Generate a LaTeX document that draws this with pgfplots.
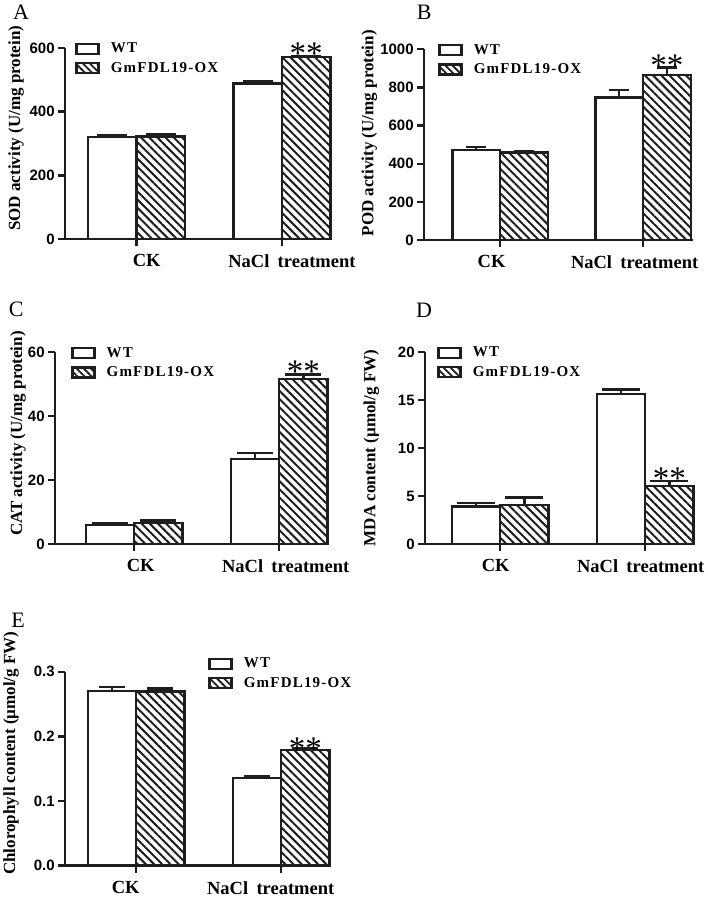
\documentclass[border=0pt]{standalone}
\usepackage{pgfplots}
\pgfplotsset{compat=1.18}
\usepackage{fontspec}
\setmainfont{Liberation Serif}
\newfontfamily\arialbf{Liberation Sans}
\newfontfamily\legfont[LetterSpace=8]{Liberation Serif}
\usetikzlibrary{patterns.meta}
\definecolor{ink}{HTML}{1E1E1E}

\tikzset{stars/.style={anchor=base, font=\fontsize{33}{33}\selectfont, inner sep=0pt, yshift=-8.5pt}}

\pgfplotsset{
  panel/.style={
    scale only axis, clip=false, enlargelimits=false,
    axis lines*=left,
    axis line style={line width=2.4pt, draw=ink},
    tick style={line width=2.4pt, draw=ink},
    major tick length=7pt, tick align=outside,
    xtick={0,1}, xticklabels={CK, NaCl\hspace{0.45em}treatment},
    xticklabel style={font=\bfseries\fontsize{18.5}{18.5}\selectfont, yshift=-5pt, xshift=#1},
    yticklabel style={font=\arialbf\bfseries\fontsize{15}{15}\selectfont},
    /pgf/number format/assume math mode=true,
    /pgf/number format/1000 sep={},
    ymin=0,
    ylabel style={font=\bfseries\fontsize{17}{17}\selectfont, anchor=center},
    legend image code/.code={\draw[##1] (0pt,-5pt) rectangle (22pt,5pt);},
    legend style={draw=none, fill=none, inner sep=0pt, anchor=west,
      font=\legfont\bfseries\fontsize{15}{15}\selectfont, row sep=4pt, column sep=9pt,
      cells={anchor=west}},
    legend cell align=left,
  },
  wtbar/.style={ybar, bar width=0.333, bar shift=0pt, draw=ink, line width=2.5pt, fill=white, forget plot,
    error bars/.cd, y dir=plus, y explicit,
    error bar style={line width=2.4pt, draw=ink},
    error mark options={rotate=90, mark size=#1, line width=2.4pt, draw=ink}},
  oxbar/.style={ybar, bar width=0.333, bar shift=0pt, draw=ink, line width=2.5pt,
    pattern={Lines[angle=-45, distance=5.8pt, line width=2pt]}, pattern color=ink, forget plot,
    error bars/.cd, y dir=plus, y explicit,
    error bar style={line width=2.4pt, draw=ink},
    error mark options={rotate=90, mark size=#1, line width=2.4pt, draw=ink}},
  legox/.style={draw=ink, line width=2.4pt, pattern={Lines[angle=-45, distance=5pt, line width=1.8pt]}, pattern color=ink},
  legwt/.style={draw=ink, line width=2.4pt, fill=white},
}

\begin{document}
\begin{tikzpicture}
\path (0pt,0pt) rectangle (700pt,907pt);

% ---------------- A ----------------
\begin{axis}[panel=10pt, at={(59pt,668pt)}, anchor=south west,
  width=266pt, height=191pt, xmin=-0.492, xmax=1.339, ymax=600,
  ytick={0,200,400,600},
  ylabel={SOD activity (U/mg protein)},
  ylabel style={at={(axis description cs:-0.184,0.58)}},
  legend style={at={(axis description cs:0.038,1)}, yshift=-10.5pt}]
\addplot[wtbar=15pt] table[x=x, y=y, y error=e] {
x y e
-0.1667 320 6
0.8333 488 8
};
\addplot[oxbar=15pt] table[x=x, y=y, y error=e] {
x y e
0.1667 322 6
1.1667 571 4
};
\addlegendimage{legwt}
\addlegendentry{WT}
\addlegendimage{legox}
\addlegendentry{GmFDL19-OX}
\node[stars] at (axis cs:1.1667,575) {**};
\end{axis}

% ---------------- B ----------------
\begin{axis}[panel=-8.5pt, at={(418pt,667pt)}, anchor=south west,
  width=269pt, height=190.7pt, xmin=-0.531, xmax=1.35, ymax=1000,
  ytick={0,200,400,600,800,1000},
  ylabel={POD activity (U/mg protein)},
  ylabel style={at={(axis description cs:-0.204,0.56)}},
  legend style={at={(axis description cs:0.052,1)}, yshift=-10.5pt}]
\addplot[wtbar=10pt] table[x=x, y=y, y error=e] {
x y e
-0.1667 472 17
0.8333 748 38
};
\addplot[oxbar=10pt] table[x=x, y=y, y error=e] {
x y e
0.1667 460 8
1.1667 864 40
};
\addlegendimage{legwt}
\addlegendentry{WT}
\addlegendimage{legox}
\addlegendentry{GmFDL19-OX}
\node[stars] at (axis cs:1.1667,904) {**};
\end{axis}

% ---------------- C ----------------
\begin{axis}[panel=6.5pt, at={(49pt,363pt)}, anchor=south west,
  width=274pt, height=191.7pt, xmin=-0.545, xmax=1.345, ymax=60,
  ytick={0,20,40,60},
  ylabel={CAT activity (U/mg protein)},
  ylabel style={at={(axis description cs:-0.135,0.576)}},
  legend style={at={(axis description cs:0.058,1)}, yshift=-10.5pt}]
\addplot[wtbar=18pt] table[x=x, y=y, y error=e] {
x y e
-0.1667 6.0 0.4
0.8333 26.6 1.8
};
\addplot[oxbar=18pt] table[x=x, y=y, y error=e] {
x y e
0.1667 6.6 0.7
1.1667 51.6 1.5
};
\addlegendimage{legwt}
\addlegendentry{WT}
\addlegendimage{legox}
\addlegendentry{GmFDL19-OX}
\node[stars] at (axis cs:1.1667,53.1) {**};
\end{axis}

% ---------------- D ----------------
\begin{axis}[panel=-4.5pt, at={(419pt,363pt)}, anchor=south west,
  width=269pt, height=192pt, xmin=-0.517, xmax=1.338, ymax=20,
  ytick={0,5,10,15,20},
  ylabel={MDA content (µmol/g FW)},
  ylabel style={at={(axis description cs:-0.2,0.5)}},
  legend style={at={(axis description cs:0.045,1)}, yshift=-10.5pt}]
\addplot[wtbar=19pt] table[x=x, y=y, y error=e] {
x y e
-0.1667 3.9 0.4
0.8333 15.6 0.5
};
\addplot[oxbar=19pt] table[x=x, y=y, y error=e] {
x y e
0.1667 4.05 0.8
1.1667 6.05 0.5
};
\addlegendimage{legwt}
\addlegendentry{WT}
\addlegendimage{legox}
\addlegendentry{GmFDL19-OX}
\node[stars] at (axis cs:1.1667,6.55) {**};
\end{axis}

% ---------------- E ----------------
\begin{axis}[panel=-10.5pt, at={(59pt,41.3pt)}, anchor=south west,
  width=265pt, height=194pt, xmin=-0.49, xmax=1.338, ymax=0.3,
  ytick={0,0.1,0.2,0.3},
  yticklabel style={/pgf/number format/.cd, fixed, fixed zerofill, precision=1},
  ylabel={Chlorophyll content (µmol/g FW)},
  ylabel style={at={(axis description cs:-0.204,0.58)}},
  legend style={at={(axis description cs:0.54,1)}, yshift=-1.8pt}]
\addplot[wtbar=13pt] table[x=x, y=y, y error=e] {
x y e
-0.1667 0.270 0.006
0.8333 0.136 0.002
};
\addplot[oxbar=13pt] table[x=x, y=y, y error=e] {
x y e
0.1667 0.269 0.005
1.1667 0.179 0.002
};
\addlegendimage{legwt}
\addlegendentry{WT}
\addlegendimage{legox}
\addlegendentry{GmFDL19-OX}
\node[stars] at (axis cs:1.1667,0.178) {**};
\end{axis}

% panel letters
\node[anchor=base, font=\fontsize{22}{22}\selectfont, inner sep=0pt] at (15pt,887pt) {A};
\node[anchor=base, font=\fontsize{22}{22}\selectfont, inner sep=0pt] at (418pt,887pt) {B};
\node[anchor=base, font=\fontsize{22}{22}\selectfont, inner sep=0pt] at (10pt,590pt) {C};
\node[anchor=base, font=\fontsize{22}{22}\selectfont, inner sep=0pt] at (418pt,589pt) {D};
\node[anchor=base, font=\fontsize{22}{22}\selectfont, inner sep=0pt] at (12pt,279pt) {E};
\end{tikzpicture}
\end{document}
